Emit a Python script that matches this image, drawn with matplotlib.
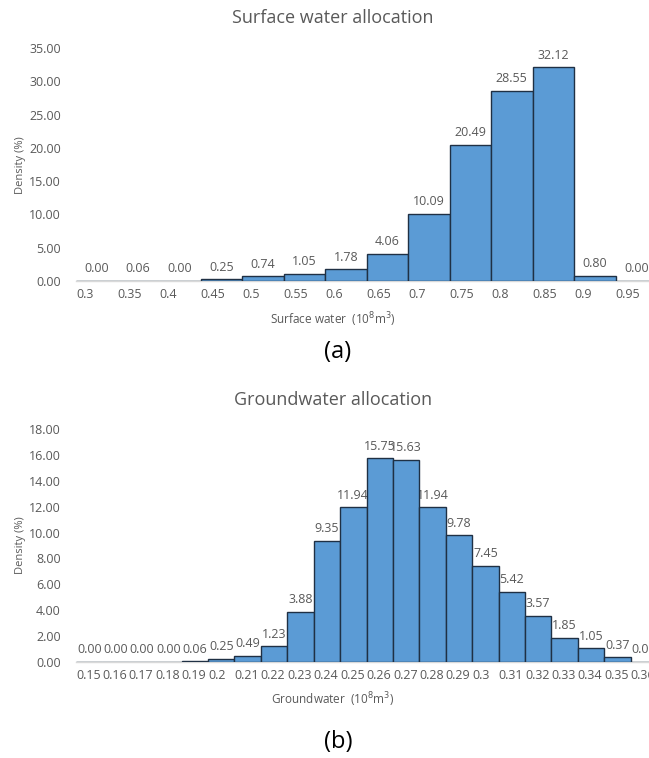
import numpy as np
import matplotlib
matplotlib.use("Agg")
import matplotlib.pyplot as plt

plt.rcParams['font.family'] = ['Open Sans', 'DejaVu Sans']

# surface water histogram (bin start, density %)
sw_bins = ['0.3', '0.35', '0.4', '0.45', '0.5', '0.55', '0.6', '0.65',
           '0.7', '0.75', '0.8', '0.85', '0.9', '0.95']
sw_density = [0.00, 0.06, 0.00, 0.25, 0.74, 1.05, 1.78, 4.06,
              10.09, 20.49, 28.55, 32.12, 0.80, 0.00]

# groundwater histogram
gw_bins = ['0.15', '0.16', '0.17', '0.18', '0.19', '0.2', '0.21', '0.22',
           '0.23', '0.24', '0.25', '0.26', '0.27', '0.28', '0.29', '0.3',
           '0.31', '0.32', '0.33', '0.34', '0.35', '0.36']
gw_density = [0.00, 0.00, 0.00, 0.00, 0.06, 0.25, 0.49, 1.23,
              3.88, 9.35, 11.94, 15.75, 15.63, 11.94, 9.78, 7.45,
              5.42, 3.57, 1.85, 1.05, 0.37, 0.00]

W, H = 649, 758
BAR = '#5B9BD5'
EDGE = '#1F3044'
GREY = '#595959'

fig = plt.figure(figsize=(W / 100, H / 100), dpi=100)


def px(x, y):
    return x / W, 1 - y / H


def hist_panel(rect, bins, vals, ymax, ystep):
    ax = fig.add_axes(rect)
    n = len(bins)
    x = np.arange(n)
    ax.bar(x, vals, width=1.0, align='edge', color=BAR,
           edgecolor=EDGE, linewidth=1.0, zorder=3)
    for xi, v in zip(x, vals):
        ax.annotate(f'{v:.2f}', (xi + 0.5, v), xytext=(0, 4),
                    textcoords='offset points', ha='center', va='bottom',
                    fontsize=9, color=GREY, zorder=1)
    ax.set_xlim(0, n)
    ax.set_ylim(0, ymax)
    ticks = np.arange(0, ymax + 0.01, ystep)
    ax.set_yticks(ticks)
    ax.set_yticklabels([f'{t:.2f}' for t in ticks])
    ax.set_xticks(x)
    ax.set_xticklabels(bins, ha='left')
    ax.tick_params(length=0, labelsize=9, colors=GREY, pad=5)
    ax.tick_params(axis='y', pad=11)
    for s in ['top', 'right', 'left']:
        ax.spines[s].set_visible(False)
    ax.spines['bottom'].set_color('#D9D9D9')
    ax.spines['bottom'].set_linewidth(1.0)
    ax.spines['bottom'].set_zorder(2)
    return ax


# plot area: x 76..657 px (runs past the right edge of the figure)
ax1 = hist_panel([76 / W, 1 - 281 / H, 581 / W, 233 / H],
                 sw_bins, sw_density, 35, 5)
ax2 = hist_panel([76 / W, 1 - 662 / H, 581 / W, 233 / H],
                 gw_bins, gw_density, 18, 2)

fig.text(*px(333, 18), 'Surface water allocation', ha='center', va='center',
         fontsize=13, color=GREY)
fig.text(*px(333, 320), 'Surface water  (10$^8$m$^3$)', ha='center',
         va='center', fontsize=8.5, color=GREY)
fig.text(*px(21, 165), 'Density (%)', ha='center', va='center',
         rotation=90, fontsize=8, color=GREY)
fig.text(*px(338, 352), '(a)', ha='center', va='center', fontsize=17,
         color='black')

fig.text(*px(333, 400), 'Groundwater allocation', ha='center', va='center',
         fontsize=13, color=GREY)
fig.text(*px(333, 700), 'Groundwater  (10$^8$m$^3$)', ha='center',
         va='center', fontsize=8.5, color=GREY)
fig.text(*px(21, 545), 'Density (%)', ha='center', va='center',
         rotation=90, fontsize=8, color=GREY)
fig.text(*px(338, 742), '(b)', ha='center', va='center', fontsize=17,
         color='black')

fig.savefig('out.png', dpi=100)
